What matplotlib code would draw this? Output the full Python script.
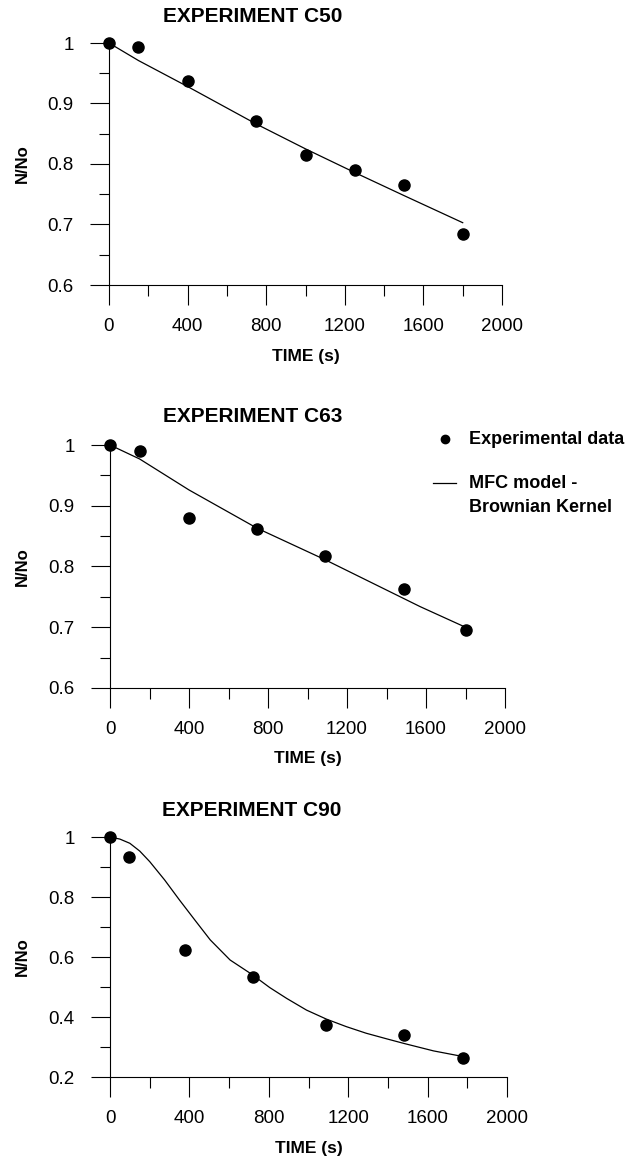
import numpy as np
import matplotlib
matplotlib.use("Agg")
import matplotlib.pyplot as plt
from matplotlib.ticker import MultipleLocator, FuncFormatter
from matplotlib.lines import Line2D

plt.rcParams['font.family'] = ['Liberation Sans', 'DejaVu Sans']

# experiment C50
c50_t = [0, 150, 400, 750, 1000, 1250, 1500, 1800]
c50_exp = [1.0, 0.994, 0.938, 0.871, 0.815, 0.790, 0.765, 0.685]
c50_model_t = [0, 150, 400, 750, 1000, 1250, 1500, 1800]
c50_model = [1.0, 0.971, 0.928, 0.866, 0.825, 0.786, 0.748, 0.703]

# experiment C63
c63_t = [0, 150, 400, 745, 1090, 1490, 1800]
c63_exp = [1.0, 0.990, 0.880, 0.861, 0.817, 0.763, 0.696]
c63_model_t = [0, 150, 400, 745, 1090, 1570, 1800]
c63_model = [1.0, 0.977, 0.926, 0.863, 0.811, 0.734, 0.700]

# experiment C90
c90_t = [0, 95, 380, 720, 1090, 1480, 1780]
c90_exp = [1.0, 0.934, 0.622, 0.532, 0.372, 0.339, 0.262]
c90_model_t = [0, 50, 100, 150, 200, 275, 350, 430, 505, 605, 715, 805, 890, 990,
               1090, 1190, 1290, 1395, 1480, 1630, 1780]
c90_model = [1.0, 0.993, 0.979, 0.953, 0.918, 0.857, 0.790, 0.721, 0.657, 0.590, 0.542,
             0.498, 0.462, 0.423, 0.393, 0.368, 0.346, 0.327, 0.312, 0.287, 0.268]

W, H = 642, 1160
fig = plt.figure(figsize=(W / 100, H / 100), dpi=100)


def px_rect(l, r, t, b):
    return [l / W, 1 - b / H, (r - l) / W, (b - t) / H]


def panel(rect, title, title_xy, t, exp, mt, model, ylo, ymaj, ymin):
    ax = fig.add_axes(px_rect(*rect))
    ax.plot(mt, model, color='black', lw=0.9, clip_on=False)
    ax.plot(t, exp, 'o', color='black', ms=8, clip_on=False)
    ax.set_xlim(0, 2000)
    ax.set_ylim(ylo, 1)
    ax.xaxis.set_major_locator(MultipleLocator(400))
    ax.xaxis.set_minor_locator(MultipleLocator(200))
    ax.yaxis.set_major_locator(MultipleLocator(ymaj))
    ax.yaxis.set_minor_locator(MultipleLocator(ymin))
    ax.yaxis.set_major_formatter(FuncFormatter(lambda v, p: '%g' % round(v, 2)))
    for s in ['top', 'right']:
        ax.spines[s].set_visible(False)
    for s in ['left', 'bottom']:
        ax.spines[s].set_linewidth(0.8)
    ax.tick_params(axis='y', which='major', direction='out', length=13.5, width=0.8, pad=12, labelsize=13.5)
    ax.tick_params(axis='y', which='minor', direction='out', length=7, width=0.8)
    ax.tick_params(axis='x', which='major', direction='out', length=14.5, width=0.8, pad=9.5, labelsize=13.5)
    ax.tick_params(axis='x', which='minor', direction='out', length=8, width=0.8)
    h = rect[3] - rect[2]
    w = rect[1] - rect[0]
    ax.set_xlabel('TIME (s)', fontsize=12.5, fontweight='bold', va='center')
    ax.xaxis.set_label_coords(0.5, -71 / h)
    ax.set_ylabel('N/No', fontsize=12, fontweight='bold', va='center')
    ax.yaxis.set_label_coords((22 - rect[0]) / w, 0.5)
    fig.text(title_xy[0] / W, 1 - title_xy[1] / H, title, fontsize=15, fontweight='bold',
             ha='center', va='center')
    return ax


ax1 = panel((109, 502, 43, 285), 'EXPERIMENT C50', (253, 17),
            c50_t, c50_exp, c50_model_t, c50_model, 0.6, 0.1, 0.05)
ax2 = panel((110, 505, 445, 688), 'EXPERIMENT C63', (253, 416),
            c63_t, c63_exp, c63_model_t, c63_model, 0.6, 0.1, 0.05)
ax3 = panel((110, 507, 837, 1077), 'EXPERIMENT C90', (252, 810),
            c90_t, c90_exp, c90_model_t, c90_model, 0.2, 0.2, 0.1)

# legend next to the C63 panel
tf = fig.transFigure
fig.add_artist(Line2D([445 / W], [1 - 439 / H], marker='o', ls='none', color='black', ms=6, transform=tf))
fig.add_artist(Line2D([433 / W, 456 / W], [1 - 483 / H] * 2, color='black', lw=0.9, transform=tf))
leg_kw = dict(fontsize=13, fontweight='bold', ha='left', va='center')
fig.text(469 / W, 1 - 439 / H, 'Experimental data', **leg_kw)
fig.text(469 / W, 1 - 483 / H, 'MFC model -', **leg_kw)
fig.text(469 / W, 1 - 507 / H, 'Brownian Kernel', **leg_kw)

fig.savefig('out.png', dpi=100, facecolor='white')
